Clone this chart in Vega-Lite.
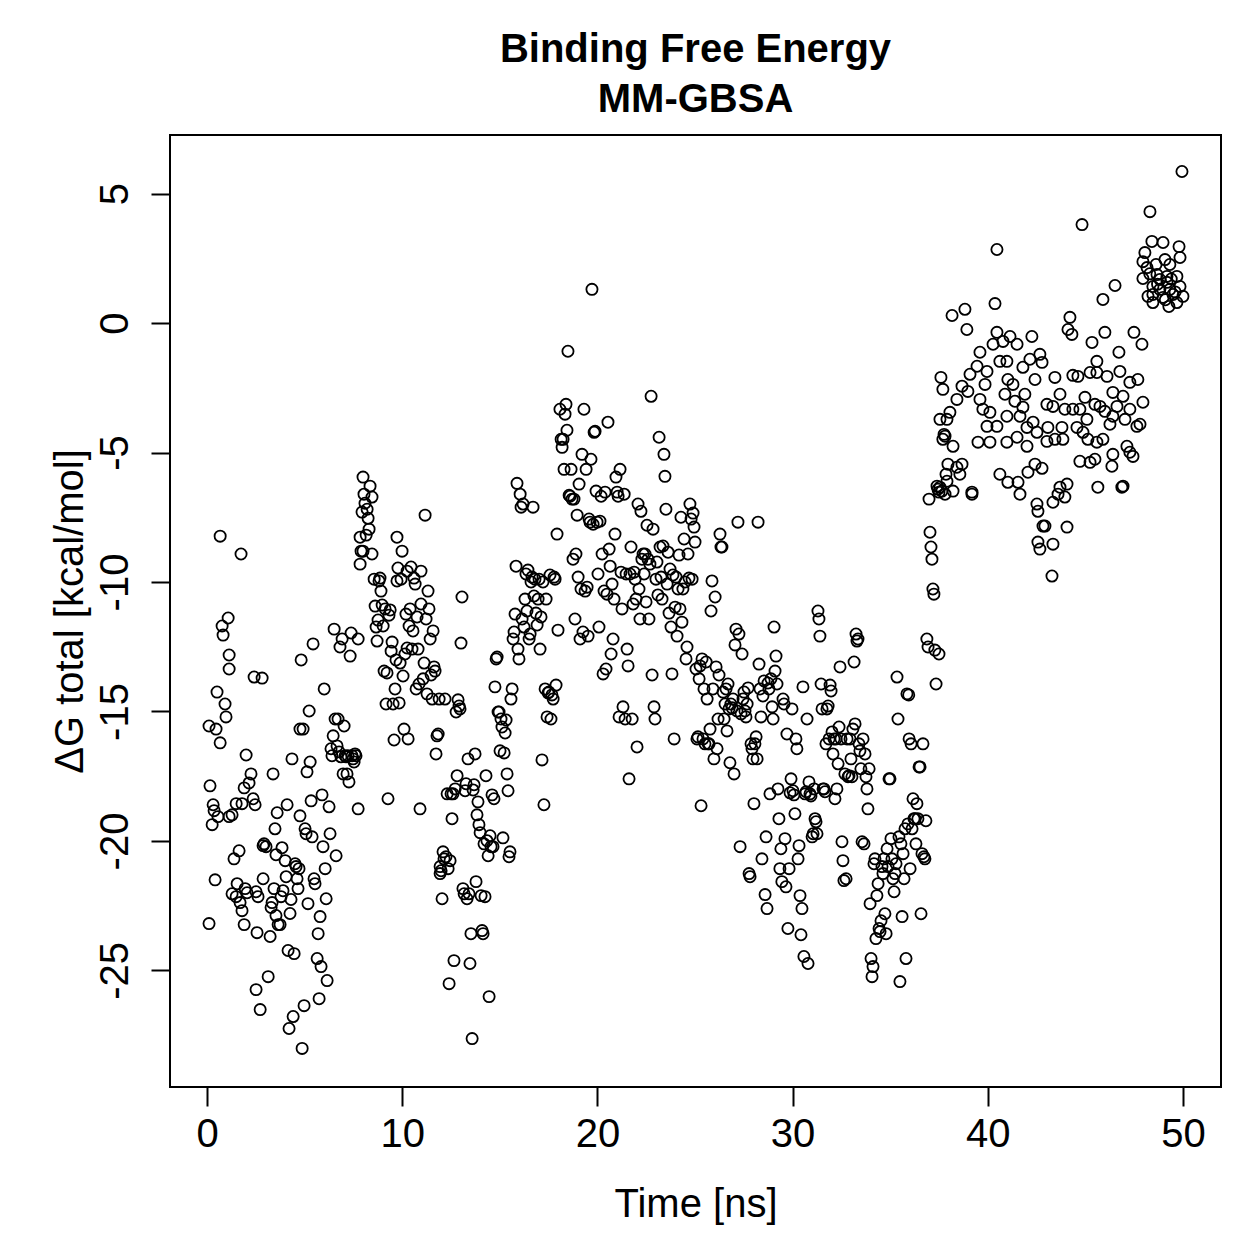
{
"$schema": "https://vega.github.io/schema/vega-lite/v6.json",
"autosize": "none",
"width": 1051,
"height": 952,
"padding": {"left": 170, "top": 135, "right": 38, "bottom": 172},
"background": "white",
"config": {"view": {"stroke": "black", "strokeWidth": 2}},
"title": {"text": ["Binding Free Energy", "MM-GBSA"], "font": "Liberation Sans", "fontSize": 40, "fontWeight": "bold", "color": "black", "lineHeight": 50, "offset": 23, "dy": 40, "baseline": "alphabetic", "anchor": "middle", "frame": "group"},
"data": {"values": [
{"t":0.10,"g":-23.19},{"t":0.10,"g":-15.56},{"t":0.15,"g":-17.87},{"t":0.26,"g":-19.37},{"t":0.31,"g":-18.60},{"t":0.36,"g":-18.83},{"t":0.41,"g":-21.50},{"t":0.46,"g":-15.68},{"t":0.51,"g":-14.25},{"t":0.56,"g":-19.06},{"t":0.67,"g":-16.21},{"t":0.67,"g":-8.23},{"t":0.77,"g":-11.70},{"t":0.82,"g":-12.05},{"t":0.92,"g":-14.71},{"t":0.97,"g":-15.21},{"t":1.08,"g":-11.39},{"t":1.13,"g":-12.82},{"t":1.13,"g":-13.36},{"t":1.13,"g":-19.06},{"t":1.28,"g":-18.99},{"t":1.28,"g":-22.04},{"t":1.38,"g":-20.69},{"t":1.49,"g":-18.56},{"t":1.49,"g":-22.15},{"t":1.54,"g":-21.65},{"t":1.64,"g":-20.38},{"t":1.69,"g":-22.38},{"t":1.74,"g":-8.92},{"t":1.79,"g":-18.56},{"t":1.79,"g":-22.69},{"t":1.90,"g":-17.95},{"t":1.90,"g":-23.23},{"t":1.95,"g":-21.84},{"t":2.00,"g":-16.68},
{"t":2.05,"g":-22.00},{"t":2.15,"g":-17.76},{"t":2.25,"g":-17.41},{"t":2.36,"g":-18.37},{"t":2.41,"g":-13.67},{"t":2.46,"g":-18.60},{"t":2.51,"g":-21.96},{"t":2.51,"g":-25.74},{"t":2.56,"g":-23.54},{"t":2.61,"g":-22.15},{"t":2.72,"g":-26.51},{"t":2.82,"g":-13.71},{"t":2.87,"g":-20.18},{"t":2.87,"g":-21.46},{"t":2.92,"g":-20.11},{"t":3.02,"g":-20.22},{"t":3.13,"g":-25.24},{"t":3.23,"g":-23.69},{"t":3.28,"g":-22.57},{"t":3.33,"g":-22.38},{"t":3.38,"g":-17.41},{"t":3.43,"g":-21.84},{"t":3.48,"g":-19.53},{"t":3.53,"g":-20.53},{"t":3.53,"g":-22.88},{"t":3.59,"g":-18.91},{"t":3.64,"g":-23.23},{"t":3.74,"g":-23.23},{"t":3.79,"g":-22.15},{"t":3.84,"g":-20.26},{"t":3.89,"g":-21.92},{"t":4.00,"g":-20.76},{"t":4.05,"g":-21.38},{"t":4.10,"g":-18.60},{"t":4.15,"g":-24.23},{"t":4.20,"g":-27.24},{"t":4.25,"g":-22.80},{"t":4.30,"g":-22.26},{"t":4.35,"g":-16.83},{"t":4.41,"g":-26.78},{"t":4.46,"g":-24.35},{"t":4.51,"g":-20.88},{"t":4.56,"g":-20.99},{"t":4.61,"g":-21.46},{"t":4.66,"g":-21.84},{"t":4.71,"g":-21.07},{"t":4.76,"g":-19.03},{"t":4.76,"g":-15.68},{"t":4.82,"g":-13.01},{"t":4.87,"g":-28.01},{"t":4.92,"g":-15.68},{"t":4.97,"g":-26.36},{"t":5.02,"g":-19.53},
{"t":5.07,"g":-19.72},{"t":5.12,"g":-17.33},{"t":5.17,"g":-22.42},{"t":5.23,"g":-14.98},{"t":5.28,"g":-16.95},{"t":5.33,"g":-18.45},{"t":5.38,"g":-19.84},{"t":5.43,"g":-12.39},{"t":5.48,"g":-21.46},{"t":5.53,"g":-21.65},{"t":5.64,"g":-24.54},{"t":5.69,"g":-23.58},{"t":5.74,"g":-26.09},{"t":5.79,"g":-22.92},{"t":5.84,"g":-24.85},{"t":5.89,"g":-18.22},{"t":5.94,"g":-20.22},{"t":6.00,"g":-14.13},{"t":6.05,"g":-21.07},{"t":6.10,"g":-22.23},{"t":6.15,"g":-25.39},{"t":6.25,"g":-18.68},{"t":6.30,"g":-19.72},{"t":6.35,"g":-16.44},{"t":6.40,"g":-16.71},{"t":6.46,"g":-15.94},{"t":6.51,"g":-11.82},{"t":6.56,"g":-15.29},{"t":6.61,"g":-20.57},{"t":6.66,"g":-16.33},{"t":6.71,"g":-15.29},{"t":6.76,"g":-16.56},{"t":6.81,"g":-12.51},{"t":6.86,"g":-16.75},{"t":6.92,"g":-12.20},{"t":6.97,"g":-17.41},{"t":7.02,"g":-15.56},{"t":7.07,"g":-16.71},{"t":7.12,"g":-16.75},{"t":7.17,"g":-17.41},{"t":7.22,"g":-16.71},{"t":7.27,"g":-17.72},{"t":7.33,"g":-12.86},{"t":7.38,"g":-11.97},{"t":7.43,"g":-16.71},{"t":7.48,"g":-16.83},{"t":7.53,"g":-16.95},{"t":7.58,"g":-16.64},{"t":7.63,"g":-16.71},{"t":7.74,"g":-18.76},{"t":7.74,"g":-12.20},{"t":7.84,"g":-8.27},{"t":7.89,"g":-8.81},{"t":7.94,"g":-7.30},{"t":7.99,"g":-5.95},{"t":8.04,"g":-6.61},{"t":8.09,"g":-6.96},{"t":8.20,"g":-7.19},{"t":8.25,"g":-7.54},{"t":8.35,"g":-6.30},{"t":8.45,"g":-6.72},{"t":8.30,"g":-7.96},{"t":7.84,"g":-9.31},{"t":7.99,"g":-8.81},{"t":8.15,"g":-8.19},
{"t":8.45,"g":-8.92},{"t":8.56,"g":-9.89},{"t":8.61,"g":-10.93},{"t":8.66,"g":-11.74},{"t":8.71,"g":-12.28},{"t":8.76,"g":-11.47},{"t":8.81,"g":-9.96},{"t":8.86,"g":-9.85},{"t":8.91,"g":-10.35},{"t":8.97,"g":-10.89},{"t":9.02,"g":-11.70},{"t":9.07,"g":-13.44},{"t":9.12,"g":-11.04},{"t":9.17,"g":-14.71},{"t":9.22,"g":-13.51},{"t":9.27,"g":-18.37},{"t":9.32,"g":-11.28},{"t":9.38,"g":-11.08},{"t":9.43,"g":-12.67},{"t":9.48,"g":-12.32},{"t":9.53,"g":-14.71},{"t":9.58,"g":-16.10},{"t":9.63,"g":-14.13},{"t":9.68,"g":-13.01},{"t":9.73,"g":-9.96},{"t":9.73,"g":-8.27},{"t":9.78,"g":-9.46},{"t":9.84,"g":-14.67},{"t":9.89,"g":-13.13},{"t":9.94,"g":-9.89},{"t":9.99,"g":-8.81},
{"t":10.04,"g":-13.63},{"t":10.09,"g":-15.68},{"t":10.14,"g":-12.78},{"t":10.19,"g":-11.24},{"t":10.25,"g":-9.58},{"t":10.25,"g":-12.55},{"t":10.30,"g":-16.06},{"t":10.35,"g":-11.70},{"t":10.40,"g":-11.04},{"t":10.45,"g":-9.42},{"t":10.50,"g":-12.59},{"t":10.55,"g":-11.89},{"t":10.60,"g":-9.85},{"t":10.66,"g":-10.08},{"t":10.71,"g":-14.13},{"t":10.76,"g":-11.35},{"t":10.81,"g":-12.59},{"t":10.86,"g":-13.94},{"t":10.91,"g":-18.76},{"t":10.96,"g":-10.85},{"t":10.96,"g":-9.58},{"t":11.07,"g":-13.74},{"t":11.12,"g":-13.13},{"t":11.17,"g":-7.42},{"t":11.22,"g":-11.43},{"t":11.27,"g":-14.32},{"t":11.32,"g":-10.35},{"t":11.37,"g":-11.04},{"t":11.43,"g":-12.20},{"t":11.48,"g":-13.59},{"t":11.53,"g":-14.52},{"t":11.58,"g":-11.89},{"t":11.63,"g":-13.28},{"t":11.68,"g":-13.44},{"t":11.73,"g":-16.64},{"t":11.78,"g":-15.94},{"t":11.84,"g":-15.87},{"t":11.89,"g":-14.52},{"t":11.94,"g":-20.99},
{"t":11.94,"g":-21.26},{"t":11.99,"g":-21.15},{"t":12.04,"g":-22.23},{"t":12.09,"g":-20.42},{"t":12.14,"g":-20.69},{"t":12.19,"g":-14.52},{"t":12.24,"g":-20.61},{"t":12.30,"g":-18.18},{"t":12.35,"g":-21.07},{"t":12.40,"g":-25.51},{"t":12.45,"g":-20.76},{"t":12.50,"g":-18.18},{"t":12.55,"g":-19.14},{"t":12.60,"g":-18.18},{"t":12.65,"g":-24.62},{"t":12.71,"g":-17.99},{"t":12.76,"g":-15.02},{"t":12.81,"g":-17.48},{"t":12.86,"g":-14.55},{"t":12.91,"g":-14.79},{"t":12.96,"g":-14.90},{"t":13.01,"g":-12.36},{"t":13.06,"g":-10.58},{"t":13.11,"g":-21.84},{"t":13.17,"g":-22.04},{"t":13.22,"g":-18.06},{"t":13.27,"g":-17.79},{"t":13.32,"g":-22.23},{"t":13.37,"g":-16.83},{"t":13.42,"g":-22.04},{"t":13.47,"g":-24.73},{"t":13.52,"g":-23.58},{"t":13.58,"g":-27.63},{"t":13.63,"g":-18.03},{"t":13.68,"g":-17.83},{"t":13.73,"g":-16.64},{"t":13.78,"g":-21.57},{"t":13.83,"g":-18.99},{"t":13.88,"g":-18.49},{"t":13.93,"g":-19.37},{"t":13.99,"g":-19.68},
{"t":14.04,"g":-22.11},{"t":14.09,"g":-23.46},{"t":14.14,"g":-23.58},{"t":14.19,"g":-20.11},{"t":14.24,"g":-22.15},{"t":14.29,"g":-17.48},{"t":14.34,"g":-19.99},{"t":14.40,"g":-20.57},{"t":14.45,"g":-26.01},{"t":14.50,"g":-19.80},{"t":14.55,"g":-20.22},{"t":14.60,"g":-18.22},{"t":14.65,"g":-20.22},{"t":14.70,"g":-18.37},{"t":14.75,"g":-14.05},{"t":14.81,"g":-12.97},{"t":14.86,"g":-12.90},{"t":14.91,"g":-15.02},{"t":14.96,"g":-15.02},{"t":15.01,"g":-16.52},{"t":15.06,"g":-15.29},{"t":15.11,"g":-15.60},{"t":15.16,"g":-19.88},{"t":15.22,"g":-16.60},{"t":15.27,"g":-15.83},{"t":15.32,"g":-15.33},{"t":15.37,"g":-17.41},{"t":15.42,"g":-18.06},{"t":15.47,"g":-20.61},{"t":15.52,"g":-20.42},{"t":15.57,"g":-14.52},{"t":15.63,"g":-14.13},{"t":15.68,"g":-12.20},{"t":15.73,"g":-11.93},{"t":15.78,"g":-11.24},{"t":15.83,"g":-9.39},{"t":15.88,"g":-6.19},{"t":15.93,"g":-12.59},{"t":15.98,"g":-12.97},
{"t":16.04,"g":-6.61},{"t":16.09,"g":-7.11},{"t":16.14,"g":-11.43},{"t":16.19,"g":-6.99},{"t":16.24,"g":-11.74},{"t":16.29,"g":-10.66},{"t":16.34,"g":-9.69},{"t":16.39,"g":-11.12},{"t":16.44,"g":-9.54},{"t":16.50,"g":-12.20},{"t":16.55,"g":-12.01},{"t":16.60,"g":-10.00},{"t":16.65,"g":-9.81},{"t":16.70,"g":-7.11},{"t":16.75,"g":-10.54},{"t":16.80,"g":-9.89},{"t":16.85,"g":-11.20},{"t":16.91,"g":-11.66},{"t":16.96,"g":-10.66},{"t":17.01,"g":-9.89},{"t":17.06,"g":-12.59},{"t":17.11,"g":-11.35},{"t":17.16,"g":-16.87},{"t":17.21,"g":-10.00},{"t":17.26,"g":-18.60},{"t":17.32,"g":-14.13},{"t":17.37,"g":-10.66},{"t":17.42,"g":-15.21},{"t":17.47,"g":-14.28},{"t":17.52,"g":-14.25},{"t":17.57,"g":-9.73},{"t":17.62,"g":-15.29},{"t":17.67,"g":-14.36},{"t":17.73,"g":-14.52},{"t":17.78,"g":-9.81},{"t":17.83,"g":-9.89},{"t":17.88,"g":-13.98},{"t":17.93,"g":-8.15},{"t":17.98,"g":-11.86},
{"t":18.08,"g":-3.33},{"t":18.14,"g":-4.49},{"t":18.19,"g":-4.80},{"t":18.24,"g":-4.49},{"t":18.29,"g":-5.65},{"t":18.34,"g":-3.52},{"t":18.39,"g":-3.14},{"t":18.44,"g":-4.14},{"t":18.49,"g":-1.09},{"t":18.55,"g":-6.65},{"t":18.60,"g":-6.69},{"t":18.65,"g":-5.65},{"t":18.70,"g":-6.80},{"t":18.75,"g":-9.12},{"t":18.80,"g":-6.80},{"t":18.85,"g":-11.43},{"t":18.90,"g":-8.92},{"t":18.96,"g":-7.42},{"t":19.01,"g":-9.81},{"t":19.06,"g":-6.22},{"t":19.11,"g":-12.20},{"t":19.16,"g":-10.27},{"t":19.21,"g":-5.07},{"t":19.26,"g":-11.93},{"t":19.31,"g":-3.33},{"t":19.37,"g":-10.35},{"t":19.42,"g":-5.65},{"t":19.47,"g":-10.20},{"t":19.52,"g":-12.09},{"t":19.57,"g":-7.57},{"t":19.62,"g":-7.69},{"t":19.67,"g":-5.26},{"t":19.72,"g":1.30},{"t":19.78,"g":-7.77},{"t":19.83,"g":-4.22},{"t":19.88,"g":-4.18},{"t":19.93,"g":-6.49},{"t":19.98,"g":-7.69},
{"t":20.03,"g":-9.69},{"t":20.08,"g":-11.74},{"t":20.13,"g":-7.65},{"t":20.19,"g":-6.69},{"t":20.24,"g":-8.92},{"t":20.29,"g":-13.55},{"t":20.34,"g":-10.35},{"t":20.39,"g":-6.53},{"t":20.44,"g":-13.36},{"t":20.49,"g":-10.47},{"t":20.54,"g":-3.83},{"t":20.60,"g":-8.73},{"t":20.65,"g":-9.39},{"t":20.70,"g":-12.78},{"t":20.75,"g":-10.08},{"t":20.80,"g":-12.20},{"t":20.85,"g":-10.66},{"t":20.90,"g":-8.15},{"t":20.95,"g":-5.95},{"t":21.01,"g":-6.53},{"t":21.06,"g":-6.69},{"t":21.11,"g":-15.21},{"t":21.16,"g":-5.65},{"t":21.21,"g":-9.62},{"t":21.26,"g":-11.04},{"t":21.31,"g":-14.82},{"t":21.37,"g":-6.61},{"t":21.42,"g":-15.29},{"t":21.47,"g":-9.69},{"t":21.52,"g":-12.59},{"t":21.57,"g":-13.24},{"t":21.62,"g":-17.60},{"t":21.67,"g":-9.69},{"t":21.72,"g":-8.65},{"t":21.78,"g":-15.29},{"t":21.83,"g":-10.85},{"t":21.88,"g":-9.62},{"t":21.93,"g":-9.89},{"t":21.98,"g":-10.66},
{"t":22.03,"g":-16.37},{"t":22.08,"g":-6.99},{"t":22.13,"g":-10.27},{"t":22.18,"g":-11.43},{"t":22.23,"g":-7.27},{"t":22.28,"g":-9.12},{"t":22.34,"g":-8.92},{"t":22.39,"g":-9.69},{"t":22.44,"g":-8.92},{"t":22.49,"g":-10.77},{"t":22.54,"g":-7.81},{"t":22.59,"g":-9.12},{"t":22.64,"g":-11.43},{"t":22.69,"g":-9.31},{"t":22.75,"g":-2.83},{"t":22.80,"g":-13.59},{"t":22.85,"g":-7.96},{"t":22.90,"g":-14.82},{"t":22.95,"g":-15.29},{"t":23.00,"g":-9.89},{"t":23.05,"g":-9.23},{"t":23.10,"g":-10.50},{"t":23.16,"g":-4.41},{"t":23.21,"g":-8.65},{"t":23.26,"g":-9.81},{"t":23.31,"g":-10.66},{"t":23.36,"g":-8.61},{"t":23.41,"g":-5.07},{"t":23.46,"g":-5.92},{"t":23.51,"g":-7.19},{"t":23.57,"g":-10.08},{"t":23.62,"g":-8.85},{"t":23.67,"g":-11.20},{"t":23.72,"g":-9.50},{"t":23.77,"g":-11.74},{"t":23.82,"g":-13.55},{"t":23.87,"g":-9.73},{"t":23.93,"g":-16.06},{"t":23.98,"g":-10.97},
{"t":24.03,"g":-9.81},{"t":24.08,"g":-12.09},{"t":24.13,"g":-10.27},{"t":24.18,"g":-8.96},{"t":24.23,"g":-11.04},{"t":24.28,"g":-7.50},{"t":24.33,"g":-11.55},{"t":24.38,"g":-10.27},{"t":24.44,"g":-8.34},{"t":24.49,"g":-10.00},{"t":24.54,"g":-12.97},{"t":24.59,"g":-12.51},{"t":24.64,"g":-8.92},{"t":24.69,"g":-9.85},{"t":24.74,"g":-6.99},{"t":24.80,"g":-7.57},{"t":24.85,"g":-9.89},{"t":24.90,"g":-7.34},{"t":24.95,"g":-7.88},{"t":25.00,"g":-8.46},{"t":25.05,"g":-13.36},{"t":25.10,"g":-16.06},{"t":25.15,"g":-15.98},{"t":25.21,"g":-13.74},{"t":25.26,"g":-13.24},{"t":25.31,"g":-18.64},{"t":25.36,"g":-12.97},{"t":25.41,"g":-16.06},{"t":25.46,"g":-14.13},{"t":25.51,"g":-16.25},{"t":25.57,"g":-13.09},{"t":25.62,"g":-14.52},{"t":25.67,"g":-16.25},{"t":25.72,"g":-16.25},{"t":25.77,"g":-15.68},{"t":25.82,"g":-11.12},{"t":25.87,"g":-9.96},{"t":25.92,"g":-14.13},{"t":25.97,"g":-16.83},
{"t":26.03,"g":-10.58},{"t":26.08,"g":-13.28},{"t":26.13,"g":-16.44},{"t":26.18,"g":-15.29},{"t":26.23,"g":-13.59},{"t":26.28,"g":-8.15},{"t":26.33,"g":-8.65},{"t":26.38,"g":-8.65},{"t":26.44,"g":-14.25},{"t":26.49,"g":-15.29},{"t":26.54,"g":-14.71},{"t":26.59,"g":-14.13},{"t":26.64,"g":-15.75},{"t":26.69,"g":-13.94},{"t":26.74,"g":-14.90},{"t":26.79,"g":-16.98},{"t":26.84,"g":-14.71},{"t":26.90,"g":-14.86},{"t":26.95,"g":-14.52},{"t":27.00,"g":-17.41},{"t":27.05,"g":-12.43},{"t":27.10,"g":-11.82},{"t":27.15,"g":-14.98},{"t":27.20,"g":-7.69},{"t":27.25,"g":-12.01},{"t":27.31,"g":-20.22},{"t":27.36,"g":-15.09},{"t":27.41,"g":-12.78},{"t":27.46,"g":-14.52},{"t":27.51,"g":-14.25},{"t":27.56,"g":-14.98},{"t":27.61,"g":-15.21},{"t":27.67,"g":-14.71},{"t":27.72,"g":-14.09},{"t":27.77,"g":-21.26},{"t":27.82,"g":-21.38},{"t":27.87,"g":-16.25},{"t":27.92,"g":-16.44},{"t":27.97,"g":-16.83},
{"t":28.02,"g":-18.56},{"t":28.07,"g":-16.25},{"t":28.13,"g":-15.98},{"t":28.18,"g":-16.83},{"t":28.23,"g":-7.69},{"t":28.28,"g":-13.17},{"t":28.33,"g":-14.13},{"t":28.38,"g":-15.21},{"t":28.43,"g":-20.69},{"t":28.48,"g":-14.40},{"t":28.54,"g":-13.82},{"t":28.59,"g":-22.07},{"t":28.64,"g":-19.84},{"t":28.69,"g":-22.61},{"t":28.74,"g":-13.90},{"t":28.79,"g":-14.13},{"t":28.84,"g":-18.18},{"t":28.89,"g":-13.74},{"t":28.95,"g":-14.82},{"t":29.00,"g":-15.29},{"t":29.05,"g":-11.74},{"t":29.10,"g":-13.44},{"t":29.15,"g":-12.86},{"t":29.20,"g":-13.94},{"t":29.25,"g":-17.99},{"t":29.30,"g":-19.14},{"t":29.35,"g":-21.07},{"t":29.40,"g":-20.30},{"t":29.45,"g":-21.57},{"t":29.51,"g":-14.52},{"t":29.56,"g":-14.71},{"t":29.61,"g":-19.91},{"t":29.66,"g":-21.77},{"t":29.71,"g":-15.87},{"t":29.76,"g":-23.38},{"t":29.82,"g":-21.07},{"t":29.87,"g":-18.14},{"t":29.92,"g":-17.60},{"t":29.97,"g":-14.90},
{"t":30.02,"g":-18.06},{"t":30.07,"g":-18.22},{"t":30.12,"g":-18.95},{"t":30.17,"g":-16.06},{"t":30.22,"g":-16.44},{"t":30.28,"g":-20.69},{"t":30.33,"g":-20.18},{"t":30.38,"g":-22.11},{"t":30.43,"g":-23.62},{"t":30.48,"g":-22.61},{"t":30.53,"g":-14.05},{"t":30.58,"g":-24.46},{"t":30.64,"g":-18.18},{"t":30.69,"g":-18.10},{"t":30.74,"g":-15.29},{"t":30.79,"g":-24.73},{"t":30.84,"g":-17.72},{"t":30.89,"g":-18.18},{"t":30.94,"g":-18.26},{"t":31.00,"g":-19.84},{"t":31.05,"g":-19.72},{"t":31.10,"g":-17.99},{"t":31.15,"g":-19.14},{"t":31.20,"g":-19.26},{"t":31.25,"g":-19.72},{"t":31.30,"g":-11.12},{"t":31.35,"g":-11.43},{"t":31.40,"g":-12.09},{"t":31.46,"g":-13.94},{"t":31.51,"g":-14.90},{"t":31.56,"g":-17.99},{"t":31.61,"g":-17.99},{"t":31.66,"g":-18.10},{"t":31.71,"g":-16.25},{"t":31.76,"g":-14.90},{"t":31.82,"g":-14.79},{"t":31.87,"g":-16.06},{"t":31.92,"g":-13.98},{"t":31.97,"g":-14.21},
{"t":32.02,"g":-15.79},{"t":32.07,"g":-16.64},{"t":32.12,"g":-16.06},{"t":32.17,"g":-18.37},{"t":32.22,"g":-16.06},{"t":32.27,"g":-17.99},{"t":32.33,"g":-17.02},{"t":32.38,"g":-15.60},{"t":32.43,"g":-13.28},{"t":32.48,"g":-16.06},{"t":32.53,"g":-20.03},{"t":32.58,"g":-20.76},{"t":32.63,"g":-21.53},{"t":32.68,"g":-17.41},{"t":32.74,"g":-21.46},{"t":32.79,"g":-16.06},{"t":32.84,"g":-17.52},{"t":32.89,"g":-17.48},{"t":32.94,"g":-16.06},{"t":32.99,"g":-16.83},{"t":33.04,"g":-17.52},{"t":33.09,"g":-15.68},{"t":33.15,"g":-13.09},{"t":33.20,"g":-15.48},{"t":33.25,"g":-12.01},{"t":33.30,"g":-12.28},{"t":33.35,"g":-12.20},{"t":33.40,"g":-16.25},{"t":33.45,"g":-16.52},{"t":33.50,"g":-17.21},{"t":33.56,"g":-20.03},{"t":33.61,"g":-16.06},{"t":33.66,"g":-20.11},{"t":33.71,"g":-16.64},{"t":33.76,"g":-17.52},{"t":33.81,"g":-17.99},{"t":33.86,"g":-18.76},{"t":33.92,"g":-17.21},{"t":33.97,"g":-22.42},
{"t":34.02,"g":-24.54},{"t":34.07,"g":-25.24},{"t":34.12,"g":-24.85},{"t":34.17,"g":-20.88},{"t":34.22,"g":-20.69},{"t":34.27,"g":-23.77},{"t":34.32,"g":-22.11},{"t":34.38,"g":-21.65},{"t":34.43,"g":-23.38},{"t":34.48,"g":-23.50},{"t":34.53,"g":-23.08},{"t":34.58,"g":-20.99},{"t":34.63,"g":-21.26},{"t":34.68,"g":-20.69},{"t":34.73,"g":-22.81},{"t":34.79,"g":-23.58},{"t":34.84,"g":-20.30},{"t":34.89,"g":-20.99},{"t":34.94,"g":-17.60},{"t":34.99,"g":-17.60},{"t":35.04,"g":-19.91},{"t":35.09,"g":-20.69},{"t":35.14,"g":-21.46},{"t":35.20,"g":-21.96},{"t":35.25,"g":-21.26},{"t":35.30,"g":-20.88},{"t":35.35,"g":-13.67},{"t":35.40,"g":-15.29},{"t":35.45,"g":-19.84},{"t":35.50,"g":-25.43},{"t":35.55,"g":-20.11},{"t":35.61,"g":-22.92},{"t":35.66,"g":-20.49},{"t":35.71,"g":-21.46},{"t":35.76,"g":-19.53},{"t":35.81,"g":-24.54},{"t":35.86,"g":-14.32},{"t":35.91,"g":-19.34},{"t":35.97,"g":-16.06},{"t":35.95,"g":-14.36},
{"t":36.02,"g":-21.07},{"t":36.07,"g":-16.25},{"t":36.12,"g":-19.53},{"t":36.17,"g":-18.37},{"t":36.22,"g":-19.14},{"t":36.27,"g":-19.14},{"t":36.32,"g":-20.11},{"t":36.37,"g":-18.56},{"t":36.42,"g":-19.14},{"t":36.48,"g":-17.14},{"t":36.53,"g":-17.14},{"t":36.58,"g":-22.81},{"t":36.63,"g":-20.49},{"t":36.68,"g":-16.25},{"t":36.73,"g":-20.61},{"t":36.78,"g":-20.69},{"t":36.83,"g":-19.22},{"t":36.88,"g":-12.20},{"t":36.94,"g":-12.51},{"t":36.99,"g":-6.80},{"t":37.04,"g":-8.08},{"t":37.09,"g":-8.65},{"t":37.14,"g":-9.12},{"t":37.19,"g":-10.27},{"t":37.24,"g":-10.47},{"t":37.29,"g":-12.63},{"t":37.35,"g":-13.94},{"t":37.40,"g":-6.30},{"t":37.45,"g":-6.42},{"t":37.50,"g":-12.78},{"t":37.55,"g":-6.34},{"t":37.60,"g":-2.10},{"t":37.65,"g":-6.49},{"t":37.70,"g":-4.49},{"t":37.76,"g":-4.30},{"t":37.81,"g":-6.61},{"t":37.86,"g":-5.84},{"t":37.91,"g":-3.72},{"t":37.96,"g":-5.45},
{"t":37.70,"g":-2.56},{"t":38.17,"g":0.29},{"t":38.83,"g":0.53},{"t":38.93,"g":-0.25},{"t":37.50,"g":-6.53},{"t":38.22,"g":-6.49},{"t":38.42,"g":-5.57},{"t":38.57,"g":-5.84},{"t":39.19,"g":-6.53},{"t":38.68,"g":-5.45},{"t":38.22,"g":-4.76},{"t":38.06,"g":-3.45},{"t":37.55,"g":-3.72},{"t":37.81,"g":-4.37},{"t":38.42,"g":-2.95},{"t":38.68,"g":-2.44},{"t":38.98,"g":-2.64},{"t":39.09,"g":-1.98},{"t":39.60,"g":-1.13},{"t":39.45,"g":-1.67},{"t":39.96,"g":-1.87},{"t":40.27,"g":-0.82},{"t":40.47,"g":-0.36},{"t":40.78,"g":-0.71},{"t":41.14,"g":-0.52},{"t":40.37,"g":0.75},{"t":40.47,"g":2.84},{"t":41.50,"g":-0.82},{"t":40.98,"g":-1.48},{"t":41.03,"g":-2.18},{"t":41.29,"g":-2.37},{"t":41.80,"g":-1.71},{"t":42.26,"g":-0.52},{"t":42.67,"g":-1.21},{"t":42.78,"g":-1.52},{"t":42.42,"g":-2.18},{"t":42.16,"g":-1.40},{"t":41.39,"g":-3.02},{"t":41.80,"g":-3.25},{"t":42.32,"g":-3.83},{"t":42.01,"g":-4.03},{"t":41.65,"g":-3.60},{"t":40.98,"g":-3.60},{"t":40.47,"g":-3.99},{"t":40.11,"g":-3.45},{"t":39.75,"g":-3.33},{"t":39.60,"g":-2.95},{"t":39.96,"g":-3.99},{"t":39.50,"g":-4.60},{"t":40.11,"g":-4.60},{"t":40.98,"g":-4.60},{"t":41.50,"g":-4.41},{"t":42.01,"g":-4.76},{"t":42.52,"g":-4.22},{"t":43.08,"g":-4.03},{"t":43.03,"g":-4.57},{"t":43.34,"g":-3.22},{"t":43.70,"g":-2.75},{"t":43.44,"g":-2.10},{"t":44.21,"g":0.22},{"t":44.11,"g":-0.25},{"t":44.31,"g":-0.44},{"t":43.80,"g":-4.03},{"t":43.85,"g":-4.49},{"t":44.36,"g":-3.33},{"t":44.72,"g":-3.33},{"t":45.08,"g":-3.72},{"t":44.88,"g":-4.22},{"t":44.57,"g":-4.03},{"t":45.13,"g":-4.49},{"t":45.59,"g":-4.60},{"t":45.90,"g":-4.49},{"t":45.75,"g":-3.22},{"t":46.26,"g":-3.91},{"t":46.41,"g":-3.60},{"t":46.62,"g":-3.22},{"t":46.93,"g":-2.83},{"t":47.28,"g":-3.33},{"t":47.64,"g":-3.99},{"t":47.95,"g":-3.06},{"t":47.69,"g":-2.18},{"t":47.28,"g":-2.29},{"t":46.77,"g":-1.87},{"t":46.41,"g":-2.68},{"t":46.11,"g":-2.06},{"t":45.59,"g":-1.91},{"t":45.59,"g":-1.48},{"t":45.34,"g":-0.75},{"t":46.00,"g":-0.36},{"t":46.72,"g":-1.13},{"t":47.49,"g":-0.36},{"t":47.90,"g":-0.82},{"t":44.36,"g":-2.02},{"t":44.62,"g":-2.06},{"t":45.24,"g":-1.91},{"t":44.72,"g":-5.34},{"t":45.24,"g":-5.38},{"t":45.49,"g":-5.26},{"t":46.41,"g":-5.07},{"t":46.36,"g":-5.53},{"t":47.13,"g":-4.76},{"t":47.28,"g":-4.99},{"t":47.44,"g":-5.15},{"t":45.64,"g":-6.34},{"t":46.87,"g":-6.34},{"t":46.93,"g":-6.30},{"t":44.06,"g":-6.22},{"t":43.70,"g":-6.34},{"t":43.60,"g":-6.61},{"t":43.95,"g":-6.72},{"t":43.34,"g":-6.92},{"t":42.52,"g":-6.99},{"t":42.57,"g":-7.27},{"t":42.83,"g":-7.84},{"t":42.93,"g":-7.84},{"t":44.06,"g":-7.88},{"t":42.57,"g":-8.46},{"t":42.67,"g":-8.73},{"t":43.34,"g":-8.54},{"t":43.29,"g":-9.77},{"t":42.06,"g":-5.76},{"t":42.42,"g":-5.45},{"t":42.78,"g":-5.61},{"t":41.65,"g":-6.61},{"t":41.55,"g":-6.15},{"t":41.03,"g":-6.15},{"t":40.62,"g":-5.84},{"t":39.19,"g":-6.61},{"t":37.91,"g":-6.11},
{"t":39.86,"g":-2.37},{"t":40.62,"g":-1.48},{"t":40.88,"g":-2.75},{"t":41.90,"g":-2.75},{"t":43.03,"g":-3.14},{"t":43.95,"g":-3.33},{"t":44.98,"g":-2.87},{"t":45.49,"g":-3.14},{"t":46.00,"g":-3.41},{"t":47.03,"g":-3.72},{"t":47.80,"g":-3.91},{"t":43.44,"g":-4.49},
{"t":48.31,"g":4.30},{"t":44.83,"g":3.80},{"t":46.52,"g":1.45},{"t":45.90,"g":0.91},{"t":48.41,"g":3.15},{"t":48.98,"g":3.11},{"t":49.80,"g":2.95},{"t":49.85,"g":2.53},{"t":48.05,"g":2.72},{"t":47.95,"g":2.37},{"t":49.08,"g":2.45},{"t":48.16,"g":2.14},{"t":47.95,"g":1.72},{"t":48.67,"g":1.87},{"t":49.18,"g":1.80},{"t":49.69,"g":1.80},{"t":48.46,"g":1.41},{"t":48.82,"g":1.30},{"t":49.33,"g":1.30},{"t":49.85,"g":1.41},{"t":50.00,"g":1.03},{"t":49.49,"g":1.10},{"t":48.98,"g":0.99},{"t":48.46,"g":1.10},{"t":48.21,"g":1.03},{"t":48.46,"g":0.79},{"t":49.28,"g":0.64},{"t":49.69,"g":0.79},{"t":49.18,"g":1.57},{"t":48.82,"g":1.68},{"t":49.95,"g":5.85},{"t":48.62,"g":2.26},{"t":49.33,"g":2.26},{"t":49.60,"g":1.20},{"t":49.10,"g":0.90},{"t":48.70,"g":1.50},{"t":49.40,"g":1.70},{"t":48.30,"g":1.90}
]},
"mark": {"type": "point", "shape": "circle", "filled": false, "stroke": "black", "strokeWidth": 1.8, "size": 125, "opacity": 1},
"encoding": {
"x": {"field": "t", "type": "quantitative", "scale": {"domain": [-1.9, 51.95], "nice": false, "zero": false},
"axis": {"values": [0, 10, 20, 30, 40, 50], "title": "Time [ns]", "domain": false, "grid": false, "ticks": true, "tickSize": 19, "tickWidth": 2, "tickColor": "black", "labelFont": "Liberation Sans", "labelFontSize": 40, "labelColor": "black", "labelPadding": 8, "labelFlush": false, "labelOverlap": false, "titleFont": "Liberation Sans", "titleFontSize": 40, "titleFontWeight": "normal", "titleColor": "black", "titleY": 129, "titleBaseline": "alphabetic"}},
"y": {"field": "g", "type": "quantitative", "scale": {"domain": [-29.5, 7.26], "nice": false, "zero": false},
"axis": {"values": [-25, -20, -15, -10, -5, 0, 5], "labelExpr": "datum.value < 0 ? '-' + abs(datum.value) : '' + datum.value", "title": "ΔG total [kcal/mol]", "domain": false, "grid": false, "ticks": true, "tickSize": 19, "tickWidth": 2, "tickColor": "black", "labelFont": "Liberation Sans", "labelFontSize": 40, "labelColor": "black", "labelAngle": -90, "labelAlign": "center", "labelBaseline": "alphabetic", "labelPadding": 24, "labelFlush": false, "labelOverlap": false, "titleFont": "Liberation Sans", "titleFontSize": 40, "titleFontWeight": "normal", "titleColor": "black", "titleAngle": -90, "titleX": -88, "titleY": 476, "titleAlign": "center", "titleBaseline": "alphabetic"}}
}
}
